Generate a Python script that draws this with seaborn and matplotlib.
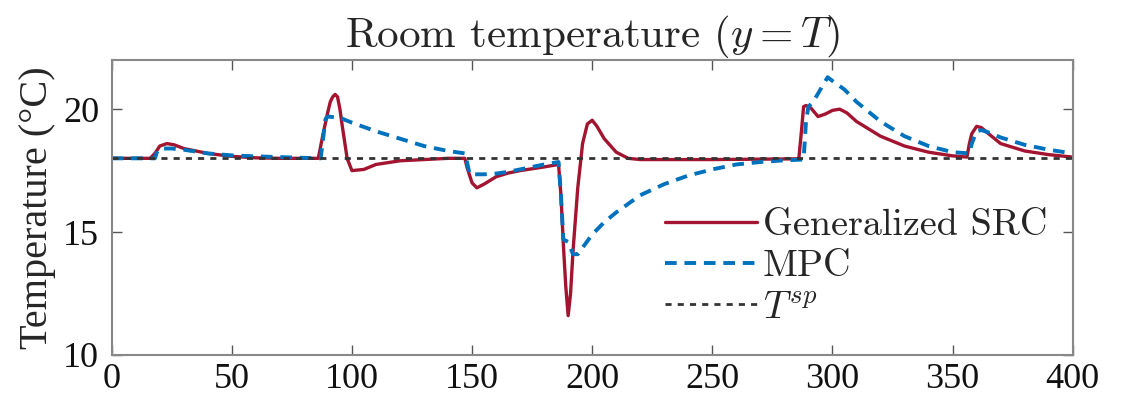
import matplotlib
matplotlib.use("Agg")
import matplotlib.pyplot as plt
import seaborn as sns
import pandas as pd

# Generalized SRC
src_t = [0, 16, 18, 20, 23, 26, 30, 40, 50, 60, 70, 86, 88, 90, 91, 92, 93, 94, 95, 96, 98, 100,
         105, 110, 120, 130, 140, 147, 148, 150, 152, 155, 160, 165, 170, 180, 186, 187, 188,
         189, 190, 191, 192, 194, 196, 198, 200, 202, 205, 210, 215, 220, 250, 286, 287, 288,
         289, 291, 294, 297, 300, 303, 306, 310, 320, 330, 340, 350, 356, 357, 358, 360, 362,
         365, 370, 380, 390, 400]
src_y = [18, 18, 18.2, 18.5, 18.6, 18.55, 18.4, 18.2, 18.08, 18.02, 18, 18, 19.0, 19.9, 20.3, 20.5,
         20.6, 20.5, 20.0, 19.3, 18.0, 17.5, 17.55, 17.75, 17.9, 17.95, 18.0, 18.0, 17.6, 17.0, 16.8,
         16.95, 17.25, 17.4, 17.5, 17.65, 17.75, 16.5, 14.5, 12.8, 11.6, 12.5, 14.2, 16.8, 18.6,
         19.4, 19.55, 19.3, 18.8, 18.25, 18.0, 17.95, 17.95, 17.98, 19.0, 20.1, 20.15, 20.05,
         19.7, 19.8, 19.95, 20.0, 19.85, 19.5, 18.9, 18.5, 18.25, 18.1, 18.05, 18.6, 19.0, 19.3,
         19.25, 19.0, 18.6, 18.3, 18.15, 18.05]

# MPC
mpc_t = [0, 18, 19, 21, 25, 30, 40, 50, 60, 70, 80, 87, 88, 89, 90, 95, 100, 110, 120, 130,
         140, 147, 148, 149, 155, 160, 165, 170, 180, 186, 187, 188, 190, 192, 194, 197, 200,
         205, 210, 220, 230, 240, 250, 260, 270, 280, 288, 289, 290, 292, 295, 298, 300, 305,
         310, 315, 320, 330, 340, 350, 357, 358, 360, 362, 365, 370, 380, 390, 400]
mpc_y = [18, 18, 18.3, 18.4, 18.4, 18.35, 18.2, 18.12, 18.08, 18.05, 18.02, 18.0, 18.8, 19.6,
         19.7, 19.65, 19.45, 19.1, 18.8, 18.5, 18.3, 18.2, 17.8, 17.35, 17.35, 17.38, 17.45,
         17.55, 17.75, 17.85, 16.5, 14.7, 14.6, 14.1, 14.1, 14.5, 14.9, 15.4, 15.8, 16.5,
         16.95, 17.3, 17.55, 17.75, 17.85, 17.92, 17.95, 19.5, 20.1, 20.3, 20.8, 21.3, 21.15,
         20.8, 20.3, 19.9, 19.5, 18.9, 18.5, 18.25, 18.2, 18.6, 19.1, 19.15, 19.05, 18.85,
         18.55, 18.35, 18.2]

# Setpoint
sp_t = [0, 400]
sp_y = [18, 18]

labels = ["Generalized SRC", "MPC", "$T^{sp}$"]
xticks = [0, 50, 100, 150, 200, 250, 300, 350, 400]
yticks = [10, 15, 20]

sns.set_theme(style="white")
plt.rcParams["font.family"] = ["cmr10", "DejaVu Serif"]
plt.rcParams["mathtext.fontset"] = "cm"
plt.rcParams["axes.formatter.use_mathtext"] = True

fig, ax = plt.subplots(figsize=(11.27, 4.04), dpi=100)
fig.subplots_adjust(left=0.0991, right=0.9518, bottom=0.1213, top=0.8515)

df_src = pd.DataFrame({"t": src_t, "y": src_y})
df_mpc = pd.DataFrame({"t": mpc_t, "y": mpc_y})
df_sp = pd.DataFrame({"t": sp_t, "y": sp_y})

sns.lineplot(data=df_src, x="t", y="y", ax=ax, color="#A2142F", linewidth=2.4,
             label=labels[0], estimator=None, sort=False)
sns.lineplot(data=df_mpc, x="t", y="y", ax=ax, color="#0072BD", linewidth=2.8,
             linestyle=(0, (3, 2)), label=labels[1], estimator=None, sort=False)
sns.lineplot(data=df_sp, x="t", y="y", ax=ax, color="#333333", linewidth=2.0,
             linestyle=(0, (2.2, 2.2)), label=labels[2], estimator=None, sort=False)

ax.set_xlim(0, 400)
ax.set_ylim(10, 22)
ax.set_xticks(xticks)
ax.set_yticks(yticks)
ax.set_xticklabels([str(v) for v in xticks])
ax.set_yticklabels([str(v) for v in yticks])
ax.set_xlabel("")
ax.set_ylabel("Temperature (°C)", fontsize=29, labelpad=5, family="Liberation Serif")
ax.set_title("Room temperature ($y = T$)", fontsize=31, pad=9)

ax.tick_params(axis="both", which="both", direction="in", length=7, width=1.0,
               colors="#555555", labelcolor="#111111", labelsize=26,
               top=True, right=True, bottom=True, left=True)
ax.tick_params(axis="x", pad=6)
ax.tick_params(axis="y", pad=9)
for lab in ax.get_xticklabels() + ax.get_yticklabels():
    lab.set_fontfamily("Liberation Serif")
for s in ax.spines.values():
    s.set_color("#888888")
    s.set_linewidth(1.5)

leg = ax.legend(loc="center left", bbox_to_anchor=(0.56, 0.30), frameon=False,
                fontsize=27.5, handlelength=2.4, handletextpad=0.15, labelspacing=0.2,
                borderaxespad=0)

fig.savefig("out.png", dpi=100)
